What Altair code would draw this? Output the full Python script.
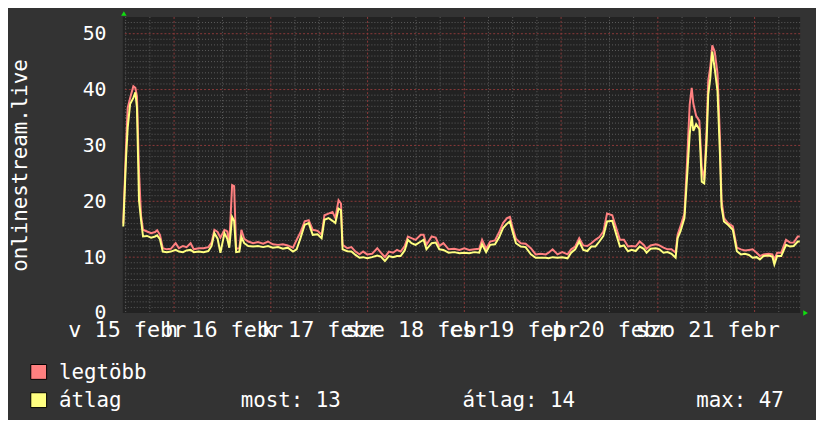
import altair as alt
import pandas as pd

# ---- data (hours since 15 Feb 00:00) ----
hours = [11.4, 12.1, 12.5, 13.1, 13.9, 14.4, 14.8, 15.3, 15.8, 16.3, 17.3, 18.3, 19.3, 19.8,
         20.5, 21.2, 22.2, 23.2, 24.4, 25.2, 26.2, 27.1, 28.1, 28.9, 30.1, 31.3, 32.5, 33.3,
         34.0, 34.8, 35.5, 36.5, 37.2, 37.7, 38.4, 38.9, 39.4, 40.2, 40.7, 41.4, 42.4, 43.6,
         44.8, 46.1, 47.3, 48.5, 49.8, 51.0, 52.2, 53.5, 54.4, 55.4, 56.4, 57.4, 58.4, 59.6,
         60.6, 61.3, 62.3, 63.3, 64.0, 64.8, 65.4, 65.8, 67.0, 68.0, 69.0, 70.0, 70.9, 71.9,
         73.1, 74.4, 75.3, 76.3, 77.3, 78.3, 79.3, 80.2, 81.2, 82.0, 82.9, 83.9, 85.2, 85.9,
         86.6, 87.9, 88.9, 89.8, 90.8, 92.1, 93.5, 94.8, 96.0, 97.2, 98.5, 99.7, 100.4, 101.4,
         102.4, 103.6, 104.6, 105.6, 106.6, 107.3, 108.0, 108.8, 110.0, 111.2, 112.5, 113.7,
         114.9, 116.2, 116.9, 117.9, 119.1, 120.3, 121.6, 122.5, 123.5, 124.5, 125.5, 126.5,
         127.5, 128.5, 129.5, 130.5, 131.4, 132.7, 133.6, 134.6, 135.6, 136.6, 137.5, 138.5,
         139.5, 140.5, 141.2, 142.2, 143.5, 144.4, 145.4, 146.4, 147.4, 148.4, 148.9, 149.6,
         150.6, 151.3, 151.9, 152.4, 152.8, 153.5, 154.3, 154.9, 155.5, 156.1, 156.5, 157.0,
         157.5, 158.1, 158.8, 159.4, 159.8, 160.4, 161.4, 162.6, 163.6, 164.6, 165.6, 166.6,
         167.5, 168.5, 169.3, 170.2, 171.5, 172.4, 172.9, 173.6, 174.6, 175.8, 176.8, 177.7,
         178.7, 179.2]

legtobb = [16.0, 30.2, 36.7, 38.5, 40.6, 40.3, 38.8, 25.5, 17.5, 14.9, 14.6, 14.3, 14.5, 14.8,
           14.0, 11.6, 11.4, 11.5, 12.5, 11.6, 12.0, 11.8, 12.5, 11.4, 11.6, 11.6, 11.8, 12.6,
           14.9, 14.5, 13.5, 14.9, 14.6, 12.5, 22.9, 22.7, 11.5, 11.6, 14.9, 13.3, 12.8, 12.5,
           12.7, 12.4, 12.8, 12.3, 12.2, 12.3, 12.1, 11.7, 13.1, 14.5, 16.4, 16.6, 14.9, 14.7,
           14.0, 17.5, 17.8, 18.1, 17.0, 20.2, 19.6, 12.2, 11.6, 11.8, 11.0, 10.5, 11.0, 10.5,
           10.6, 11.6, 10.8, 10.0, 11.0, 10.8, 11.3, 11.0, 12.0, 13.7, 13.4, 13.1, 14.0, 14.0,
           12.2, 13.7, 13.5, 12.0, 12.5, 11.4, 11.5, 11.3, 11.6, 11.3, 11.4, 11.5, 13.1, 11.5,
           12.8, 13.0, 14.4, 16.1, 17.0, 17.2, 15.2, 13.3, 12.5, 12.4, 11.6, 10.5,
           10.6, 10.5, 10.8, 11.4, 10.5, 10.9, 10.5, 11.4, 11.9, 13.4, 12.1, 12.0,
           12.5, 13.1, 13.6, 14.6, 17.8, 17.5, 15.4, 13.1, 13.1, 11.9, 12.0, 11.9,
           12.8, 12.2, 11.5, 12.1, 12.3, 12.1, 11.7, 11.4, 11.4, 10.8, 14.0, 15.5,
           17.8, 27.9, 37.3, 40.3, 37.5, 35.3, 34.4, 26.0, 23.8, 33.0, 41.5, 44.0,
           47.9, 46.8, 42.9, 31.5, 20.2, 17.0, 16.1, 15.5, 11.7, 11.4, 11.2, 11.3,
           11.4, 10.8, 10.2, 10.5, 10.6, 10.5, 9.6, 10.8, 10.8, 13.1, 12.6, 12.6,
           13.7, 13.7]

atlag = [15.5, 27.9, 33.2, 37.4, 38.5, 39.5, 36.7, 20.2, 16.7, 13.7, 13.8, 13.5, 13.7, 13.9,
         13.2, 11.0, 10.9, 11.0, 11.3, 11.0, 10.9, 11.2, 11.3, 10.9, 11.0, 10.9, 11.1, 12.0,
         14.3, 13.3, 10.8, 14.3, 13.3, 11.7, 17.2, 16.5, 10.9, 11.0, 13.6, 12.5, 12.0, 11.9,
         12.0, 11.8, 12.0, 11.7, 11.8, 11.5, 11.7, 11.0, 11.4, 13.5, 15.8, 16.1, 14.0, 14.1,
         13.4, 16.7, 17.0, 16.5, 16.1, 18.7, 18.4, 11.4, 11.05, 11.0, 10.4, 9.9, 10.0, 9.8,
         10.0, 10.3, 10.1, 9.3, 10.2, 10.0, 10.2, 10.2, 11.2, 13.1, 12.5, 12.2, 12.8, 13.1,
         11.4, 12.5, 12.6, 11.4, 11.3, 10.8, 10.9, 10.7, 10.8, 10.7, 10.9, 10.8, 12.3, 10.9,
         12.2, 12.3, 13.5, 15.2, 16.0, 16.4, 14.5, 12.5, 11.9, 11.8, 10.5, 9.9,
         9.9, 9.9, 9.8, 10.0, 9.9, 10.0, 9.8, 10.8, 11.4, 12.8, 11.3, 11.1,
         11.9, 11.9, 12.8, 13.8, 16.4, 16.5, 14.3, 11.9, 12.1, 11.05, 11.3, 11.1,
         11.9, 11.5, 10.8, 11.5, 11.6, 11.4, 10.8, 10.9, 10.6, 9.9, 13.4, 14.6,
         17.0, 24.9, 32.0, 35.3, 32.6, 33.8, 32.9, 23.5, 23.2, 30.8, 39.1, 42.0,
         46.8, 43.8, 39.7, 28.5, 19.0, 16.4, 15.8, 14.9, 11.05, 10.5, 10.6, 10.4,
         9.9, 10.0, 9.6, 10.2, 10.3, 10.1, 8.7, 10.2, 10.2, 12.2, 11.9, 12.0,
         12.8, 12.8]

y_label_values = [0, 10, 20, 30, 40, 50]
day_labels = ["v 15 febr", "h 16 febr", "k 17 febr", "sze 18 febr",
              "cs 19 febr", "p 20 febr", "szo 21 febr"]
day_label_hours = [12.4, 36.4, 60.4, 84.4, 108.4, 132.4, 156.4]
major_x_hours = [24, 48, 72, 96, 120, 144, 168]
minor_x_hours = [12, 18, 30, 36, 42, 54, 60, 66, 78, 84, 90, 102, 108, 114,
                 126, 132, 138, 150, 156, 162, 174]
major_y = [10, 20, 30, 40, 50]
minor_y = [v for v in range(1, 53) if v % 10 != 0]

legend_names = ["legtöbb", "átlag"]
legend_colors = ["#FF8080", "#FFFF80"]
stat_texts = ["most: 13", "átlag: 14", "max: 47"]

FONT = "DejaVu Sans Mono"
X_DOMAIN = [11.3, 179.3]
Y_DOMAIN = [0, 53]

xs = alt.Scale(domain=X_DOMAIN, nice=False, zero=False)
ys = alt.Scale(domain=Y_DOMAIN, nice=False, zero=False)

y_axis = alt.Axis(
    values=y_label_values, grid=False, ticks=False, domain=False, tickSize=0,
    labelPadding=17, labelFontSize=20, labelFont=FONT, labelColor="#ffffff",
    labelFlush=False, labelOverlap=False,
    title="onlinestream.live", titleFontSize=21, titleFont=FONT,
    titleFontWeight="normal", titleColor="#ffffff", titleX=-97, titleY=149.5,
    titleAngle=270, titleAlign="center", titleBaseline="alphabetic",
)

series = pd.DataFrame({"hour": hours, "legtobb": legtobb, "atlag": atlag})

def hrule(values, color, dash):
    return alt.Chart(pd.DataFrame({"v": values})).mark_rule(
        color=color, strokeDash=dash, strokeWidth=1
    ).encode(y=alt.Y("v:Q", scale=ys, axis=y_axis))

def vrule(values, color, dash):
    return alt.Chart(pd.DataFrame({"h": values})).mark_rule(
        color=color, strokeDash=dash, strokeWidth=1
    ).encode(x=alt.X("h:Q", scale=xs, axis=None))

grid_minor_h = hrule(minor_y, "#5e5e5e", [1, 2])
grid_minor_v = vrule(minor_x_hours, "#5e5e5e", [1, 2])
grid_major_h = hrule(major_y, "#8c3a3a", [2, 2])
grid_major_v = vrule(major_x_hours, "#8c3a3a", [2, 2])

line_max = alt.Chart(series).mark_line(color="#FF8080", strokeWidth=2).encode(
    x=alt.X("hour:Q", scale=xs, axis=None),
    y=alt.Y("legtobb:Q", scale=ys, axis=y_axis),
)
line_avg = alt.Chart(series).mark_line(color="#FFFF80", strokeWidth=2).encode(
    x=alt.X("hour:Q", scale=xs, axis=None),
    y=alt.Y("atlag:Q", scale=ys, axis=y_axis),
)

day_text = alt.Chart(pd.DataFrame({"h": day_label_hours, "t": day_labels})).mark_text(
    font=FONT, fontSize=22, color="#ffffff", align="center", baseline="alphabetic"
).encode(
    x=alt.X("h:Q", scale=xs, axis=None),
    y=alt.value(323.5),
    text="t:N",
)

one = pd.DataFrame({"a": [0]})

arrow_up = alt.Chart(one).mark_point(shape="triangle-up", filled=True, size=30,
                                     color="#11dd11", opacity=1).encode(
    x=alt.value(1), y=alt.value(-3.5))
arrow_right = alt.Chart(one).mark_point(shape="triangle-right", filled=True, size=30,
                                        color="#11dd11", opacity=1).encode(
    x=alt.value(689.5), y=alt.value(299))

sw1 = alt.Chart(one).mark_rect(fill=legend_colors[0], stroke="#000000", strokeWidth=1).encode(
    x=alt.value(-93), x2=alt.value(-77), y=alt.value(351), y2=alt.value(366))
sw2 = alt.Chart(one).mark_rect(fill=legend_colors[1], stroke="#000000", strokeWidth=1).encode(
    x=alt.value(-93), x2=alt.value(-77), y=alt.value(379.5), y2=alt.value(394.5))

def label(txt, x, y):
    return alt.Chart(one).mark_text(
        font=FONT, fontSize=21, color="#ffffff", align="left", baseline="alphabetic"
    ).encode(x=alt.value(x), y=alt.value(y), text=alt.value(txt))

leg1 = label(legend_names[0], -64.5, 366)
leg2 = label(legend_names[1], -64.5, 394)
st1 = label(stat_texts[0], 119, 394)
st2 = label(stat_texts[1], 343, 394)
st3 = label(stat_texts[2], 579, 394)

chart = alt.layer(
    grid_minor_h, grid_minor_v, grid_major_h, grid_major_v,
    line_max, line_avg, day_text, arrow_up, arrow_right,
    sw1, sw2, leg1, leg2, st1, st2, st3,
).properties(
    width=684, height=299,
    padding={"left": 116, "top": 7, "right": 16, "bottom": 106},
    autosize=alt.AutoSizeParams(type="none"),
).configure(
    background="#333333", font=FONT,
).configure_view(
    fill="#222222", stroke=None,
)

chart.save("out.html", embed_options={"renderer": "svg", "actions": False})
